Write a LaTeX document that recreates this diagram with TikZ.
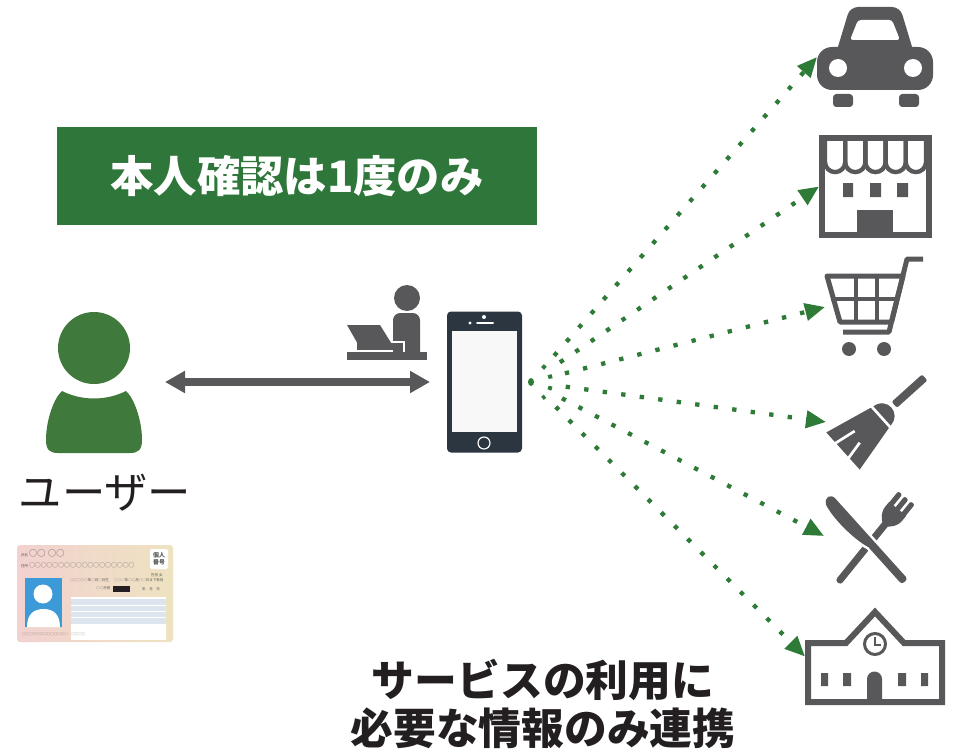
\documentclass[tikz,border=0pt]{standalone}
\usepackage{fontspec}
\setmainfont{Noto Sans CJK JP}
\usetikzlibrary{arrows.meta}

\definecolor{boxgreen}{HTML}{2E763A}
\definecolor{usergreen}{HTML}{3F793B}
\definecolor{linkgreen}{HTML}{2E7B38}
\definecolor{icongray}{HTML}{58585A}
\definecolor{phonegray}{HTML}{2B3640}
\definecolor{screenwhite}{HTML}{F8F8F8}
\definecolor{textgray}{HTML}{231F20}
\definecolor{cardpink}{HTML}{F2D1CF}
\definecolor{cardcream}{HTML}{EEE3C1}
\definecolor{photoblue}{HTML}{3C9AD8}
\definecolor{panelblue}{HTML}{DCE4EE}
\definecolor{cardtext}{HTML}{555555}

\begin{document}
\begin{tikzpicture}[
    x=0.3mm, y=-0.3mm,
    titlebox/.style={fill=boxgreen, text=white, inner sep=0pt,
        minimum width=144mm, minimum height=29.4mm,
        font=\fontsize{37}{41}\selectfont\bfseries},
    caption/.style={text=textgray, align=center, inner sep=0pt,
        font=\fontsize{36.5}{41}\selectfont\bfseries},
    username/.style={text=textgray, inner sep=0pt,
        font=\fontsize{37}{40}\selectfont},
    icon/.style={inner sep=0pt, outer sep=0pt},
    link/.style={linkgreen, line width=1.3mm,
        dash pattern=on 1.3mm off 4.3mm, shorten <=10.5mm,
        -{Triangle[length=6mm, width=5.1mm]}},
    biarrow/.style={icongray, line width=2.3mm,
        {Triangle[length=6mm, width=6.3mm]}-{Triangle[length=6mm, width=6.3mm]}},
    cardnote/.style={inner sep=0pt, text=cardtext, anchor=west,
        font=\fontsize{3}{3.5}\selectfont}
]

\path[use as bounding box] (0,0) rectangle (955,753);

% heading
\node[titlebox] (title) at (297,176) {本人確認は1度のみ};

% user
\node[icon, minimum width=28.8mm, minimum height=42.6mm] (user) at (94,382) {};
\fill[usergreen] (94,348) circle (36);
\fill[usergreen] (62,391) .. controls (82,401) and (106,401) .. (126,391)
    .. controls (134,398) and (142,420) .. (142,440)
    .. controls (142,450) and (138,453) .. (130,453) -- (58,453)
    .. controls (50,453) and (46,450) .. (46,440)
    .. controls (46,420) and (54,398) .. (62,391) -- cycle;
\node[username] (username) at (105,493) {ユーザー};

% my number card
\shade[left color=cardpink, right color=cardcream, rounded corners=0.9mm]
    (17,545) rectangle (173,642);
\fill[photoblue] (25,578) rectangle (62,627);
\fill[white] (43,594) circle (9.5);
\fill[white] (27,627) .. controls (27,613) and (35,609) .. (43.5,609)
    .. controls (52,609) and (60,613) .. (60,627) -- cycle;
\fill[white] (71,597) rectangle (166,640);
\fill[panelblue] (71,599) rectangle (166,624);
\foreach \r in {605,611,617} \draw[white, line width=0.2mm] (71,\r) -- (166,\r);
\fill[white, rounded corners=0.5mm] (150,549) rectangle (168,569);
\node[cardnote, anchor=center, align=center, font=\fontsize{5}{5.5}\selectfont\bfseries]
    at (159,559) {個人\\番号};
\node[cardnote] at (21,553) {氏名 {\fontsize{7}{7}\selectfont ○○\,\,○○}};
\node[cardnote] at (21,565) {住所 {\fontsize{5}{5}\selectfont ○○○○○○○○○○○○○○○○○○}};
\node[cardnote] at (151,575) {性別 女};
\node[cardnote] at (70,580) {○○○○○年○月○日生};
\node[cardnote] at (114,580) {○○○年○○月○○日まで有効};
\node[cardnote] at (96,588) {○○市長};
\fill[textgray] (113,586) rectangle (130,592);
\node[cardnote] at (142,589) {年\quad 月\quad 日};
\node[cardnote] at (22,634) {○○○○○○○○○○○○○\quad ○○○○};

% phone
\node[icon, fill=phonegray, rounded corners=1.2mm,
    minimum width=22.5mm, minimum height=42.3mm] (phone) at (484.5,382) {};
\fill[screenwhite] (452,331) rectangle (517,432);
\draw[white, line width=0.6mm, line cap=round] (477,323) -- (493,323);
\fill[white] (470,323) circle (1.6);
\fill[white] (484,317) circle (2);
\draw[white, line width=0.35mm] (484,443) circle (6);

% user <-> phone
\draw[biarrow, shorten <=6.9mm, shorten >=5.1mm] (user) -- (phone);

% operator at a laptop
\fill[icongray] (407,298) circle (13);
\fill[icongray] (393,352) [rounded corners=2.2mm] -- (393,313) -- (420,313)
    [sharp corners] -- (420,352) -- cycle;
\fill[icongray] (347,325) -- (380,325) -- (393,346) -- (359,346) -- cycle;
\draw[white, line width=0.5mm] (392,342) -- (404,342) -- (404,352);
\fill[icongray] (357,343) rectangle (403,350);
\fill[icongray] (347,352) rectangle (427,360);

% signal
\coordinate (wave) at (531,382);
\fill[linkgreen] (wave) ellipse (3 and 4);
\draw[linkgreen, line width=1.2mm, dash pattern=on 1.2mm off 2.3mm]
    ([shift={(-55:20)}]wave) arc[start angle=-55, end angle=55, radius=20];

% services
\node[icon, minimum width=34.8mm, minimum height=30mm] (car) at (875,57) {};
\fill[icongray, rounded corners=2.4mm] (834,60) -- (850,7) -- (900,7) -- (916,60) -- cycle;
\fill[white, rounded corners=0.9mm] (850,40) -- (858,20) -- (892,20) -- (900,40) -- cycle;
\fill[icongray, rounded corners=4.5mm] (817,47) rectangle (933,90);
\fill[white] (838,68) circle (9) (913,68) circle (9);
\fill[icongray, rounded corners=1mm] (833,94) rectangle (853,107)
    (899,94) rectangle (919,107);

\node[icon, minimum width=33.9mm, minimum height=30.9mm] (shop) at (875.5,186.5) {};
\draw[icongray, line width=1.8mm] (822,138) rectangle (929,235);
\foreach \i in {0,...,4}
    \draw[icongray, line width=1.3mm]
        ({825+20.2*\i},138) -- ({825+20.2*\i},162)
        arc[start angle=180, end angle=0, radius=10.1] -- ({845.2+20.2*\i},138);
\fill[icongray] (843,183) rectangle (853,197) (870,183) rectangle (881,197)
    (897,183) rectangle (908,197);
\fill[icongray] (857,210) rectangle (893,236);

\node[icon, minimum width=29.4mm, minimum height=29.4mm] (cart) at (874,307) {};
\draw[icongray, line width=1.5mm, line join=round]
    (923,259) -- (907,259) -- (889,332) -- (843,332);
\draw[icongray, line width=1.5mm, line join=round]
    (827,276) -- (903,276) -- (891.5,322) -- (840,322) -- cycle;
\draw[icongray, line width=1.3mm] (856,276) -- (856,322) (877,276) -- (877,322)
    (831,299) -- (897,299);
\fill[icongray] (849,349) circle (7) (884,349) circle (7);

\node[icon, minimum width=30.6mm, minimum height=30mm] (broom) at (877,422) {};
\begin{scope}[shift={(843,451)}, rotate=-48]
  \fill[icongray, rounded corners=0.6mm] (-4,-110) rectangle (4,-69);
  \fill[icongray] (-25,0) -- (-13,-52) .. controls (-12,-61) and (-6,-65) .. (0,-65)
      .. controls (6,-65) and (12,-61) .. (13,-52) -- (25,0) -- cycle;
  \draw[white, line width=0.8mm] (-16,-51) -- (16,-51);
  \draw[white, line width=0.8mm] (-11,1) -- (-7,-22) (9,1) -- (5,-18);
\end{scope}

\node[icon, minimum width=30mm, minimum height=29.4mm] (cutlery) at (874,536) {};
\begin{scope}[shift={(870,543)}, rotate=-39]
  \fill[icongray, rounded corners=0.9mm] (-3.5,-30) rectangle (3.5,51);
  \fill[icongray] (-11,-44) -- (11,-44) -- (11,-38) .. controls (11,-30) and (6,-26) .. (3.5,-24)
      -- (-3.5,-24) .. controls (-6,-26) and (-11,-30) .. (-11,-38) -- cycle;
  \foreach \t in {-8,0,8}
    \fill[icongray, rounded corners=0.6mm] ({\t-2.6},-58) rectangle ({\t+2.6},-42);
\end{scope}
\begin{scope}[shift={(870,543)}, rotate=42]
  \draw[white, line width=1.5mm] (4,2) -- (4,-56) .. controls (4,-63) and (-3,-65) .. (-7,-58)
      .. controls (-11,-45) and (-10,-15) .. (-4,2) -- cycle
      (-4,0) rectangle (4,52);
  \fill[icongray] (4,2) -- (4,-56) .. controls (4,-63) and (-3,-65) .. (-7,-58)
      .. controls (-11,-45) and (-10,-15) .. (-4,2) -- cycle;
  \fill[icongray, rounded corners=0.9mm] (-4,0) rectangle (4,52);
\end{scope}

\node[icon, minimum width=42mm, minimum height=29.1mm] (school) at (875,656.5) {};
\draw[icongray, line width=1.8mm]
    (808,702) -- (808,643) -- (846,643) -- (875,612) -- (904,643) -- (942,643) -- (942,702) -- cycle;
\draw[icongray, line width=0.9mm] (875,644) circle (10.5);
\draw[icongray, line width=0.6mm] (875,637) -- (875,645) -- (881,645);
\fill[icongray] (821,673) rectangle (828,686) (843,673) rectangle (851,686)
    (898,673) rectangle (906,686) (921,673) rectangle (928,686);
\fill[icongray] (867,703) -- (867,679) arc[start angle=180, end angle=360, radius=7.5]
    -- (882,703) -- cycle;

% links to the services
\foreach \s in {car, shop, cart, broom, cutlery, school}
    \draw[link] (wave) -- (\s.west);

% caption
\node[caption] (caption) at (543,704) {サービスの利用に\\必要な情報のみ連携};

\end{tikzpicture}
\end{document}
